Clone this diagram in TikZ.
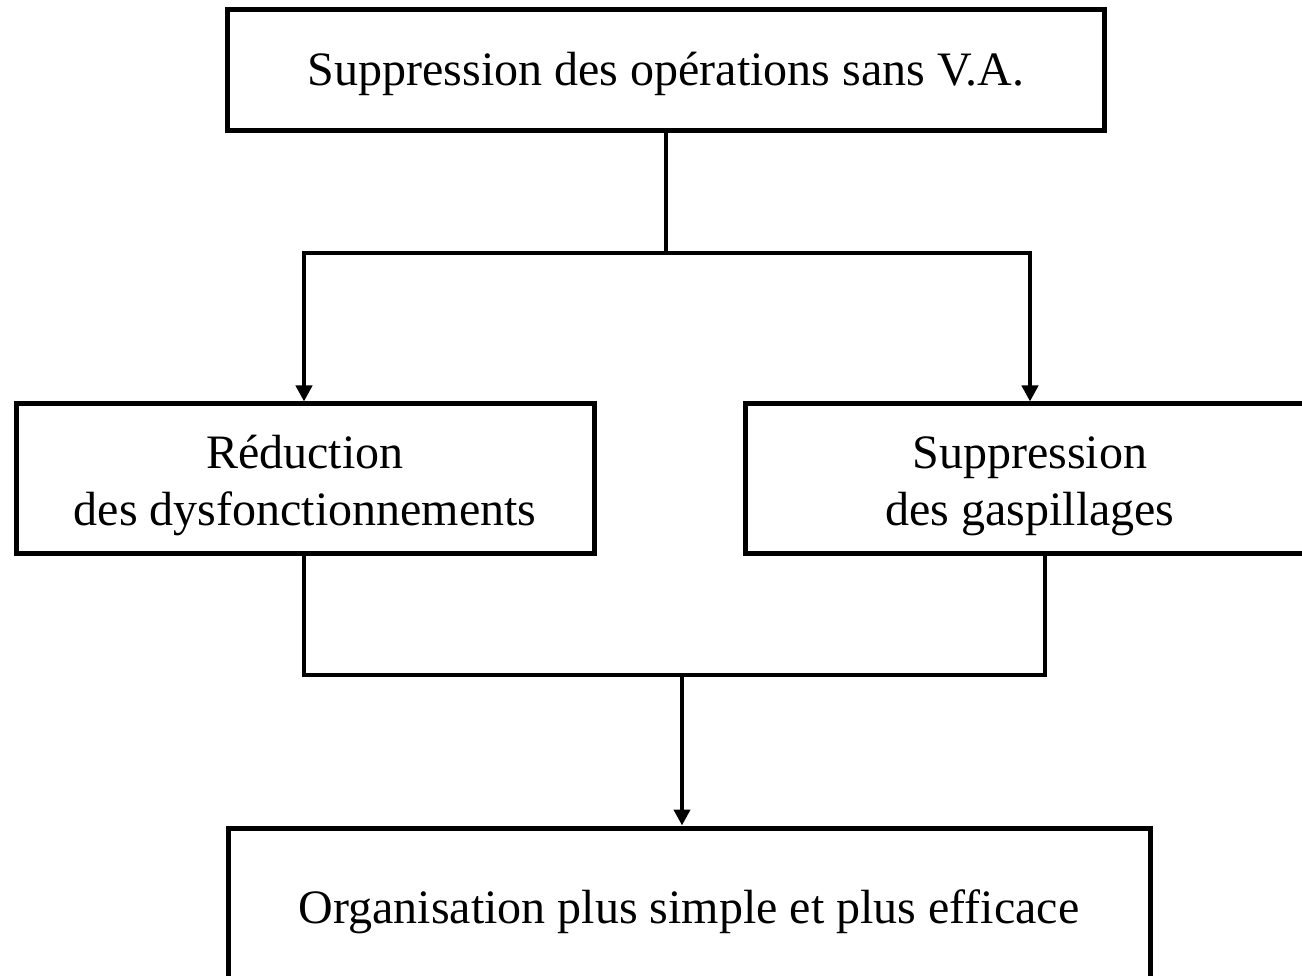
\documentclass[tikz,border=0pt]{standalone}
\usepackage{fontspec}
\setmainfont{Liberation Serif}
\usetikzlibrary{arrows.meta}
\begin{document}
\begin{tikzpicture}[x=1pt,y=-1pt,
  box/.style={draw, line width=5pt, rectangle, align=center, inner sep=0pt,
    font=\fontsize{48}{57}\selectfont},
  conn/.style={line width=4.5pt},
  arr/.style={conn, -{Triangle[width=16pt,length=16pt]}}]
\useasboundingbox (0,0) rectangle (1302,976);
\clip (0,0) rectangle (1302,976);
\node[box, minimum width=877pt, minimum height=121pt] (top) at (666,70.5) {\rule{0pt}{41pt}Suppression des opérations sans V.A.};
\node[box, minimum width=578pt, minimum height=149pt] (left) at (305,478.5) {\rule{0pt}{47pt}Réduction\\des dysfonctionnements};
\node[box, minimum width=570pt, minimum height=149pt] (right) at (1030,478.5) {\rule{0pt}{47pt}Suppression\\des gaspillages};
\node[box, minimum width=922pt, minimum height=160pt] (bottom) at (689,908) {\rule{0pt}{42pt}Organisation plus simple et plus efficace};
\coordinate (j1) at (666,253);
\coordinate (jl) at (304,253);
\coordinate (jr) at (1030,253);
\coordinate (bl) at (304,675);
\coordinate (br) at (1045,675);
\coordinate (bm) at (682,675);
\draw[conn] (top.south) -- (j1);
\draw[conn, line cap=rect] (jl) -- (jr);
\draw[arr] (jl) -- (jl |- left.north);
\draw[arr] (jr) -- (jr |- right.north);
\draw[conn, line cap=rect] (bl |- left.south) -- (bl) -- (br) -- (br |- right.south);
\draw[arr] (bm) -- (bm |- bottom.north);
\end{tikzpicture}
\end{document}
